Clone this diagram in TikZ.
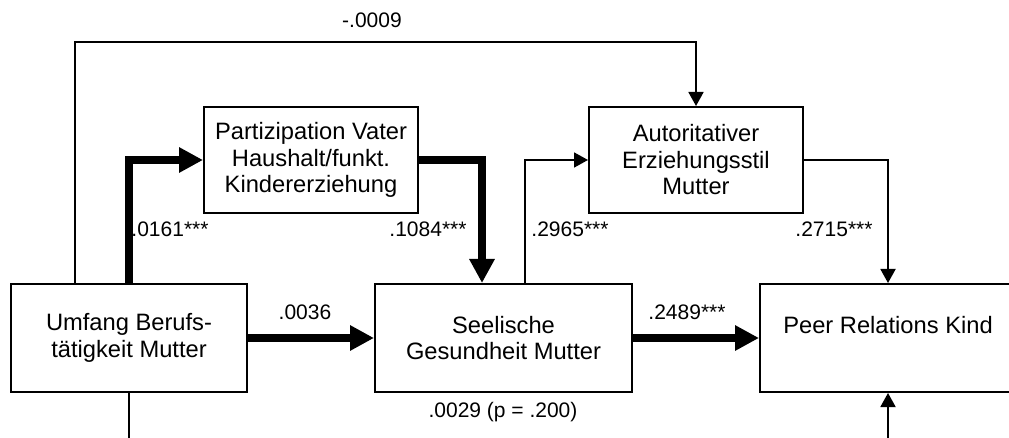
\documentclass[tikz,border=0pt]{standalone}
\usepackage{fontspec}
\setmainfont{Liberation Sans}
\usetikzlibrary{arrows.meta}
\begin{document}
\begin{tikzpicture}[x=1pt,y=-1pt,
  box/.style={draw,line width=2pt,inner sep=0pt,align=center,
    font=\fontsize{23.7}{26.5}\selectfont},
  lbl/.style={inner sep=0pt,font=\fontsize{21}{24}\selectfont},
  thinarrow/.style={line width=1.8pt,-{Triangle[length=14pt,width=15pt]}},
  thinline/.style={line width=1.8pt},
  thickarrow/.style={line width=7.5pt,line join=miter,-{Triangle[length=24pt,width=24pt]}}]
\useasboundingbox (0,0) rectangle (1009,438);
\begin{scope}
\clip (0,0) rectangle (1009,438);
\node[box,minimum width=236pt,minimum height=108pt] (umf) at (129,338) {Umfang Berufs-\\tätigkeit Mutter};
\node[box,minimum width=257pt,minimum height=108pt] (seel) at (503.5,338) {Seelische\\Gesundheit Mutter};
\node[box,minimum width=256pt,minimum height=108pt] (peer) at (888,338) {Peer Relations Kind\\\mbox{}};
\node[box,minimum width=214pt,minimum height=106pt] (part) at (311,160) {Partizipation Vater\\Haushalt/funkt.\\Kindererziehung};
\node[box,minimum width=214pt,minimum height=106pt] (aut) at (696,160) {Autoritativer\\Erziehungsstil\\Mutter};

\coordinate (top) at (75,42);
\coordinate (b1) at (129,445);
\coordinate (b2) at (888,445);

\draw[thinarrow] ([xshift=-54pt]umf.north) -- (top) -| (aut.north);
\draw[thickarrow] (umf.north) |- (part.west);
\draw[thickarrow] (part.east) -| ([xshift=-21.5pt]seel.north);
\draw[thinarrow] ([xshift=21.5pt]seel.north) |- (aut.west);
\draw[thinarrow] (aut.east) -| (peer.north);
\draw[thickarrow] (umf.east) -- (seel.west);
\draw[thickarrow] (seel.east) -- (peer.west);
\draw[thinline] (umf.south) -- (b1);
\draw[thinarrow] (b2) -- (peer.south);
\end{scope}

\node[lbl] (l1) at (372,20) {-.0009};
\node[lbl] (l2) at (170,229) {.0161***};
\node[lbl] (l3) at (428,229) {.1084***};
\node[lbl] (l4) at (570,229) {.2965***};
\node[lbl] (l5) at (834,229) {.2715***};
\node[lbl] (l6) at (305,312) {.0036};
\node[lbl] (l7) at (687,312) {.2489***};
\node[lbl] (l8) at (503,412) {.0029 (p = .200)};
\end{tikzpicture}
\end{document}
